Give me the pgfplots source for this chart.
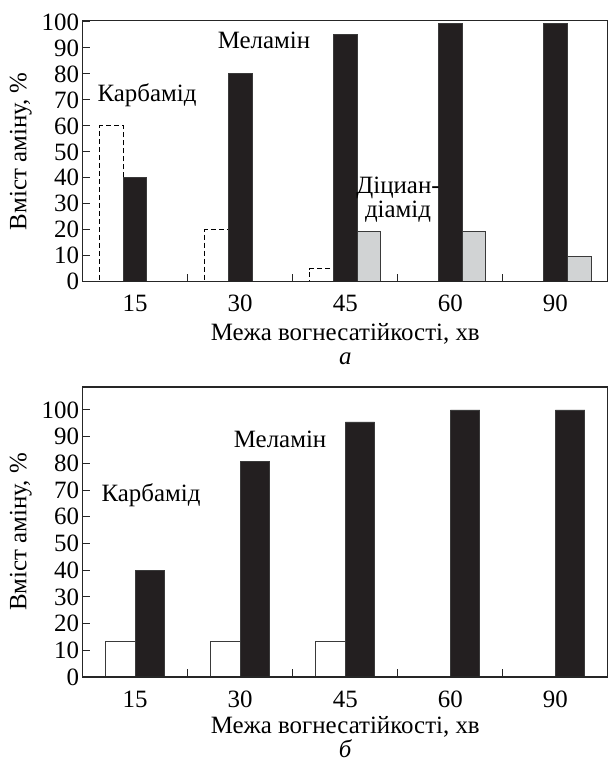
\documentclass[border=0pt]{standalone}
\usepackage{pgfplots}
\pgfplotsset{compat=1.18}
\usepackage{fontspec}
\setmainfont{Liberation Serif}
\definecolor{barblack}{HTML}{231F20}
\definecolor{bargray}{HTML}{D1D3D4}
\definecolor{edge}{HTML}{3A3A3A}
\begin{document}
\begin{tikzpicture}
\useasboundingbox (0,0) rectangle (608bp,767bp);
\pgfplotsset{
 common/.style={
  scale only axis, width=525.5bp,
  anchor=south west,
  xmin=0.5, xmax=5.5, ymin=0,
  xtick={1,2,3,4,5}, xticklabels={15,30,45,60,90},
  minor xtick={1.5,2.5,3.5,4.5},
  major x tick style={draw=none},
  minor tick length=8bp,
  major tick length=7bp,
  tick align=inside,
  xtick pos=bottom, ytick pos=left,
  ytick={0,10,...,100},
  axis on top,
  axis line style={line width=1.1bp, black!85},
  every tick/.style={line width=1bp, black!85},
  /pgf/number format/assume math mode=true,
  ticklabel style={font=\fontsize{25}{25}\selectfont},
  xticklabel style={anchor=base, yshift=-30bp},
  label style={font=\fontsize{25}{25}\selectfont},
  ylabel={Вміст аміну, \%},
  ylabel style={yshift=3bp},
  clip=false,
 }
}
% top panel
\begin{axis}[common, at={(82.5bp,485.3bp)}, height=261bp, ymax=100.5,
  xlabel={Межа вогнесатійкості, хв},
  xlabel style={at={(rel axis cs:0.5,0)}, anchor=base, inner sep=0pt, yshift=-59bp}]
\addplot[ybar, bar width=0.225, bar shift=-0.225, draw=black, dash pattern=on 5bp off 3bp, fill=white, line width=0.9bp]
  coordinates {(1,60) (2,20) (3,5)};
\addplot[ybar, bar width=0.225, bar shift=0, draw=edge, fill=barblack, line width=0.8bp]
  coordinates {(1,40) (2,80.3) (3,95.3) (4,99.6) (5,99.4)};
\addplot[ybar, bar width=0.225, bar shift=0.225, draw=edge, fill=bargray, line width=0.8bp]
  coordinates {(3,19.5) (4,19.5) (5,9.6)};
\node[font=\fontsize{25}{25}\selectfont] at (axis cs:2.227,93) {Меламін};
\node[font=\fontsize{25}{25}\selectfont] at (axis cs:1.114,71.8) {Карбамід};
\node[font=\fontsize{25}{25}\selectfont, anchor=base] at (axis cs:3.502,33.9) {Діциан-};
\node[font=\fontsize{25}{25}\selectfont, anchor=base] at (axis cs:3.502,24.6) {діамід};
\node[font=\fontsize{25}{25}\selectfont\itshape, anchor=base, inner sep=0pt] at (rel axis cs:0.5,0) [yshift=-83bp] {а};
\end{axis}
% bottom panel
\begin{axis}[common, at={(82.5bp,90bp)}, height=290bp, ymax=108.6,
  xlabel={Межа вогнесатійкості, хв},
  xlabel style={at={(rel axis cs:0.5,0)}, anchor=base, inner sep=0pt, yshift=-56bp}]
\addplot[ybar, bar width=0.28, bar shift=-0.14, draw=edge, fill=white, line width=0.9bp]
  coordinates {(1,13.3) (2,13.3) (3,13.3)};
\addplot[ybar, bar width=0.28, bar shift=0.14, draw=edge, fill=barblack, line width=0.8bp]
  coordinates {(1,39.8) (2,80.8) (3,95.5) (4,100) (5,100)};
\node[font=\fontsize{25}{25}\selectfont] at (axis cs:2.38,88.8) {Меламін};
\node[font=\fontsize{25}{25}\selectfont] at (axis cs:1.152,68.2) {Карбамід};
\node[font=\fontsize{25}{25}\selectfont\itshape, anchor=base, inner sep=0pt] at (rel axis cs:0.5,0) [yshift=-80bp] {б};
\end{axis}
\end{tikzpicture}
\end{document}
